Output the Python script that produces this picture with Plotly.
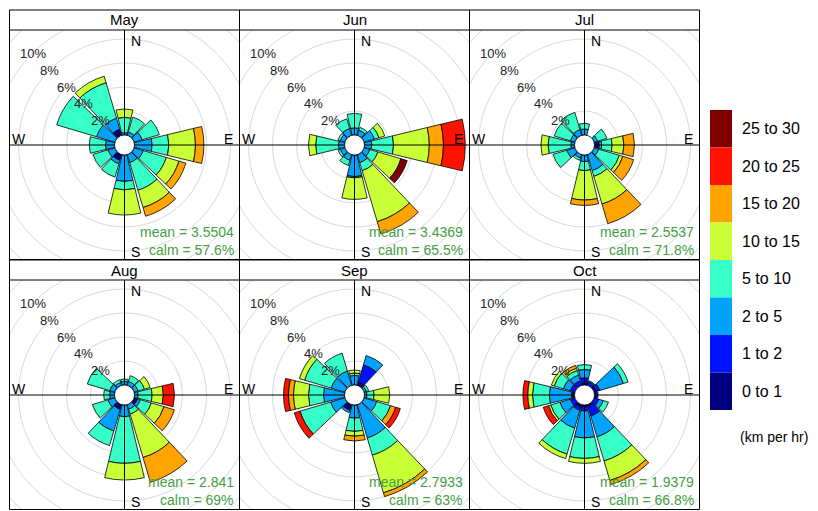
import plotly.graph_objects as go

# The page places the figure 8 px from the window corner, so the figure is
# drawn 810x503 and reference pixel positions are shifted by OFF.
OFF = 8
W, H = 818 - OFF, 511 - OFF

months = ["May", "Jun", "Jul", "Aug", "Sep", "Oct"]
directions = [0, 30, 60, 90, 120, 150, 180, 210, 240, 270, 300, 330]
speed_bins = ["0 to 1", "1 to 2", "2 to 5", "5 to 10", "10 to 15", "15 to 20", "20 to 25", "25 to 30"]
bin_colors = ["#00007F", "#0012FF", "#00A4FF", "#36FFC8", "#C8FF36", "#FFA400", "#FF1200", "#7F0000"]
mean_speed = [3.5504, 3.4369, 2.5537, 2.841, 2.7933, 1.9379]
calm_pct = [57.6, 65.5, 71.8, 69, 63, 66.8]
grid_pct = [2, 4, 6, 8, 10, 12]
label_pct = [2, 4, 6, 8, 10]

# frequency (%) : one row per direction (N, 30, ..., 330), columns follow speed_bins
may_freq = [
    [0, 0, 0.20, 1.27, 0.70, 0, 0, 0],
    [0, 0, 0.30, 1.30, 0, 0, 0, 0],
    [0, 0, 0.70, 1.50, 0, 0, 0, 0],
    [0, 0, 1.47, 1.39, 2.22, 0.70, 0, 0],
    [0, 0, 0.80, 2.00, 1.10, 0.60, 0, 0],
    [0, 0, 0.70, 2.40, 1.50, 0.76, 0, 0],
    [0, 0, 2.20, 0.70, 2.10, 0, 0, 0],
    [0.50, 0, 0.30, 1.15, 0, 0, 0, 0],
    [0, 0, 0.60, 1.30, 0, 0, 0, 0],
    [0, 0, 0.75, 1.35, 0, 0, 0, 0],
    [0, 0, 1.60, 3.46, 0, 0, 0, 0],
    [0.55, 0, 0.95, 3.08, 0.56, 0, 0, 0],
]
jun_freq = [
    [0, 0, 0.60, 1.20, 0, 0, 0, 0],
    [0, 0, 0.45, 0.25, 0, 0, 0, 0],
    [0, 0, 0.90, 0.40, 0.50, 0, 0, 0],
    [0, 0, 0.60, 1.82, 2.98, 1.18, 1.82, 0],
    [0, 0, 0.50, 0.70, 2.00, 0, 0, 0.55],
    [0, 0, 0.70, 0.70, 4.43, 1.07, 0, 0],
    [0, 0, 1.80, 0.10, 1.80, 0, 0, 0],
    [0, 0, 0.50, 0.45, 0, 0, 0, 0],
    [0, 0, 0.40, 0.20, 0, 0, 0, 0],
    [0, 0, 0.50, 1.90, 0.60, 0, 0, 0],
    [0, 0, 0.40, 0.20, 0, 0, 0, 0],
    [0, 0, 0.60, 0.84, 0, 0, 0, 0],
]
jul_freq = [
    [0, 0, 0.50, 0.47, 0, 0, 0, 0],
    [0, 0, 0, 0, 0, 0, 0, 0],
    [0, 0, 0.30, 0.80, 0, 0, 0, 0],
    [0.40, 0, 0.20, 0.87, 0.98, 0.88, 0, 0],
    [0, 0, 0.40, 1.80, 0.30, 0.94, 0, 0],
    [0, 0, 1.40, 0.50, 2.40, 1.70, 0, 0],
    [0, 0, 0.55, 0.75, 2.45, 0.45, 0, 0],
    [0, 0, 0.30, 0.20, 0, 0, 0, 0],
    [0, 0, 0.70, 1.20, 0, 0, 0, 0],
    [0, 0, 0.30, 1.90, 0.60, 0, 0, 0],
    [0, 0, 0.40, 1.40, 0, 0, 0, 0],
    [0, 0, 0.50, 1.50, 0, 0, 0, 0],
]
aug_freq = [
    [0, 0, 0.30, 0.20, 0, 0, 0, 0],
    [0, 0, 0.35, 0.50, 0, 0, 0, 0],
    [0, 0, 0.35, 0.55, 0.50, 0, 0, 0],
    [0, 0, 0.30, 1.17, 0.93, 0, 0.93, 0],
    [0.30, 0, 0.25, 0.95, 1.10, 0.90, 0, 0],
    [0, 0, 0.40, 0.43, 3.77, 2.15, 0, 0],
    [0, 0, 0.97, 3.89, 1.39, 0, 0, 0],
    [0.42, 0, 1.88, 1.26, 0, 0, 0, 0],
    [0, 0, 0.60, 1.35, 0, 0, 0, 0],
    [0, 0, 0.40, 0.50, 0, 0, 0, 0],
    [0, 0, 0.45, 1.95, 0, 0, 0, 0],
    [0, 0, 0.25, 0.25, 0, 0, 0, 0],
]
sep_freq = [
    [0, 0, 0.80, 0.20, 0.25, 0, 0, 0],
    [0.30, 1.50, 0.80, 0, 0, 0, 0, 0],
    [0, 0, 0.20, 0.20, 0, 0, 0, 0],
    [0, 0, 0.20, 0.60, 1.30, 0, 0, 0],
    [0, 0, 1.10, 1.20, 0, 0.45, 0.40, 0],
    [0, 0, 2.90, 1.50, 3.27, 0.33, 0, 0],
    [0, 0, 1.10, 1.10, 0.40, 0.40, 0, 0],
    [0.50, 0, 0.20, 0, 0, 0, 0, 0],
    [0, 0, 1.25, 2.65, 0, 0, 0.50, 0],
    [0, 0, 1.75, 1.25, 1.25, 0.42, 0.41, 0],
    [0, 0, 1.20, 2.30, 0.45, 0, 0, 0],
    [0, 0, 1.25, 1.55, 0, 0, 0, 0],
]
oct_freq = [
    [0.15, 0.45, 0.70, 0.40, 0, 0, 0, 0],
    [0, 0.30, 0.10, 0, 0, 0, 0, 0],
    [0.20, 0.30, 2.05, 0.40, 0, 0, 0, 0],
    [0.10, 0.20, 0, 0, 0, 0, 0, 0],
    [0, 0.40, 0.40, 0.45, 0, 0, 0, 0],
    [0.15, 0.85, 1.80, 2.10, 1.70, 0.35, 0, 0],
    [0.15, 0.35, 2.25, 1.70, 0.41, 0, 0, 0],
    [0.20, 0.30, 1.55, 2.25, 0.40, 0, 0, 0],
    [0, 0.40, 0.90, 0.80, 0.20, 0, 0.45, 0],
    [0.25, 0, 1.85, 1.40, 0.40, 0, 0.40, 0],
    [0, 0.40, 0.60, 0.80, 0.25, 0, 0, 0],
    [0, 0.40, 0.50, 0.40, 0.20, 0.25, 0, 0],
]
month_freq = [may_freq, jun_freq, jul_freq, aug_freq, sep_freq, oct_freq]

# ---- geometry (reference pixels) ----
PX_PER_PCT = 12.0
HOLE_PX = 10.0
HALF = 115.0
col_left = [9.5, 239.5, 469.5]
row_top = [30.0, 280.0]
STRIP = 20.0
FONT = "Liberation Sans, Arial, sans-serif"
GREEN = "#44A044"


def px(x):
    return (x - OFF) / W


def py(y):
    return 1 - (y - OFF) / H


fig = go.Figure()
shapes = []
annotations = []
layout_extra = {}
rmax = (HALF - HOLE_PX) / PX_PER_PCT
u_half = HALF / PX_PER_PCT
u_off = HOLE_PX / PX_PER_PCT

for i, month in enumerate(months):
    r_i, c_i = divmod(i, 3)
    left = col_left[c_i]
    top = row_top[r_i]
    cx, cy = left + HALF, top + HALF
    xdom = [px(left), px(left + 2 * HALF)]
    ydom = [max(0.0, py(top + 2 * HALF)), py(top)]
    pk = "polar" if i == 0 else f"polar{i + 1}"
    xk = "x" if i == 0 else f"x{i + 1}"
    yk = "y" if i == 0 else f"y{i + 1}"
    xak = "xaxis" if i == 0 else f"xaxis{i + 1}"
    yak = "yaxis" if i == 0 else f"yaxis{i + 1}"

    layout_extra[xak] = dict(domain=xdom, range=[-u_half, u_half], visible=False,
                             fixedrange=True, anchor=yk)
    layout_extra[yak] = dict(domain=ydom, range=[-u_half, u_half], visible=False,
                             fixedrange=True, anchor=xk)
    layout_extra[pk] = dict(
        domain=dict(x=xdom, y=ydom),
        hole=HOLE_PX / HALF,
        bgcolor="rgba(0,0,0,0)",
        barmode="stack",
        radialaxis=dict(range=[0, rmax], showgrid=False, showticklabels=False,
                        ticks="", showline=False),
        angularaxis=dict(direction="clockwise", rotation=90, showgrid=False,
                         showticklabels=False, ticks="", showline=False),
    )

    fig.add_trace(go.Scatter(x=[0], y=[0], mode="markers", marker=dict(opacity=0),
                             xaxis=xk, yaxis=yk, showlegend=False, hoverinfo="skip"))

    freq = month_freq[i]
    for b, name in enumerate(speed_bins):
        fig.add_trace(go.Barpolar(
            r=[row[b] for row in freq],
            theta=directions,
            width=27,
            name=name,
            marker=dict(color=bin_colors[b], line=dict(color="black", width=0.8)),
            subplot=pk,
            showlegend=False,
            hoverinfo="skip",
        ))

    for g in grid_pct:
        rr = u_off + g
        shapes.append(dict(type="circle", xref=xk, yref=yk, x0=-rr, x1=rr, y0=-rr, y1=rr,
                           line=dict(color="#D9D9D9", width=1), layer="below"))
    shapes.append(dict(type="line", xref=xk, yref=yk, x0=0, x1=0, y0=-u_half, y1=u_half,
                       line=dict(color="black", width=1), layer="above"))
    shapes.append(dict(type="line", xref=xk, yref=yk, x0=-u_half, x1=u_half, y0=0, y1=0,
                       line=dict(color="black", width=1), layer="above"))
    shapes.append(dict(type="circle", xref=xk, yref=yk, x0=-u_off, x1=u_off, y0=-u_off, y1=u_off,
                       fillcolor="white", line=dict(color="black", width=0.8), layer="above"))

    shapes.append(dict(type="rect", xref="paper", yref="paper",
                       x0=px(left), x1=px(left + 2 * HALF), y0=py(top + 2 * HALF - 0.5),
                       y1=py(top - STRIP),
                       line=dict(color="black", width=1), layer="above"))
    shapes.append(dict(type="line", xref="paper", yref="paper",
                       x0=px(left), x1=px(left + 2 * HALF), y0=py(top), y1=py(top),
                       line=dict(color="black", width=1), layer="above"))
    annotations.append(dict(x=px(cx), y=py(top - STRIP / 2), xref="paper", yref="paper",
                            text=month, showarrow=False, font=dict(size=15, color="black", family=FONT),
                            xanchor="center", yanchor="middle"))

    for txt, ax_, ay_, xa in [("N", cx + 4, cy - 104, "left"), ("E", cx + 110, cy - 6, "right"),
                              ("S", cx + 4, cy + 107, "left"), ("W", cx - 115, cy - 6, "left")]:
        annotations.append(dict(x=px(ax_), y=py(ay_), xref="paper", yref="paper", text=txt,
                                showarrow=False, font=dict(size=14, color="black", family=FONT),
                                xanchor=xa, yanchor="middle"))
    for g in label_pct:
        rpx = HOLE_PX + PX_PER_PCT * g
        annotations.append(dict(x=px(cx - 0.7071 * rpx), y=py(cy - 0.7071 * rpx), xref="paper",
                                yref="paper", text=f"{g}%", showarrow=False,
                                font=dict(size=13, color="#222222", family=FONT),
                                xanchor="center", yanchor="middle"))
    annotations.append(dict(x=px(cx + 111), y=py(cy + 87), xref="paper", yref="paper",
                            text=f"mean = {mean_speed[i]}", showarrow=False,
                            font=dict(size=14, color=GREEN, family=FONT), xanchor="right", yanchor="middle"))
    annotations.append(dict(x=px(cx + 111), y=py(cy + 105), xref="paper", yref="paper",
                            text=f"calm = {calm_pct[i]:g}%", showarrow=False,
                            font=dict(size=14, color=GREEN, family=FONT), xanchor="right", yanchor="middle"))

# ---- legend key ----
key_x0, key_x1 = 710, 732
key_top, key_h = 110, 37.5
n = len(speed_bins)
for k in range(n):
    b = n - 1 - k
    y0 = key_top + k * key_h
    shapes.append(dict(type="rect", xref="paper", yref="paper", x0=px(key_x0), x1=px(key_x1),
                       y0=py(y0 + key_h), y1=py(y0), fillcolor=bin_colors[b],
                       line=dict(width=0), layer="above"))
    annotations.append(dict(x=px(740), y=py(y0 + key_h / 2), xref="paper", yref="paper",
                            text=speed_bins[b], showarrow=False,
                            font=dict(size=16, color="black", family=FONT),
                            xanchor="left", yanchor="middle"))
annotations.append(dict(x=px(738), y=py(437), xref="paper", yref="paper", text="(km per hr)",
                        showarrow=False, font=dict(size=14, color="black", family=FONT),
                        xanchor="left", yanchor="middle"))

fig.update_layout(
    width=W, height=H,
    margin=dict(l=0, r=0, t=0, b=0),
    paper_bgcolor="white",
    plot_bgcolor="white",
    showlegend=False,
    hovermode=False,
    shapes=shapes,
    annotations=annotations,
    font=dict(family=FONT),
    **layout_extra,
)

fig.write_html("out.html")
